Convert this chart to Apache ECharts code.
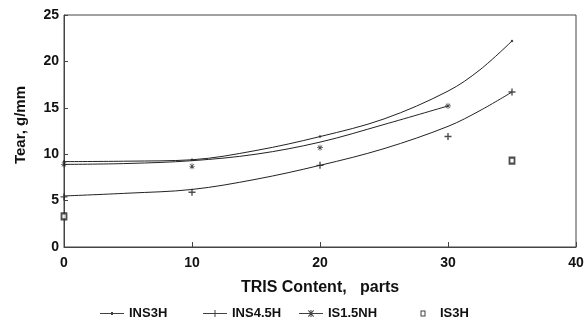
<!DOCTYPE html>
<html>
<head>
<meta charset="utf-8">
<script src="https://cdn.jsdelivr.net/npm/echarts@6/dist/echarts.min.js"></script>
<style>
html,body{margin:0;padding:0;background:#fff;}
#chart{width:587px;height:335px;}
</style>
</head>
<body>
<div id="chart"></div>
<script>
// ---- Data ----
const seriesNames = ['INS3H', 'INS4.5H', 'IS1.5NH', 'IS3H'];

// fitted curves (x = TRIS content, parts; y = tear, g/mm)
const fitX_INS3H = [0, 5, 10, 15, 20, 25, 30, 32.5, 35];
const fitY_INS3H = [9.2, 9.25, 9.4, 10.4, 11.9, 13.8, 16.8, 19.1, 22.2];
const fitX_INS45H = [0, 5, 10, 15, 20, 25, 30, 32.5, 35];
const fitY_INS45H = [5.5, 5.8, 6.2, 7.3, 8.8, 10.6, 13.0, 14.7, 16.7];
const fitX_IS15NH = [0, 5, 10, 15, 20, 25, 30];
const fitY_IS15NH = [8.9, 9.0, 9.3, 10.0, 11.3, 13.2, 15.2];

// measured points
const ptX_INS3H = [0, 10, 20, 35];
const ptY_INS3H = [9.2, 9.4, 11.9, 22.2];
const ptX_INS45H = [0, 10, 20, 30, 35];
const ptY_INS45H = [5.4, 5.9, 8.8, 11.9, 16.7];
const ptX_IS15NH = [0, 10, 20, 30];
const ptY_IS15NH = [8.9, 8.7, 10.7, 15.2];
const ptX_IS3H = [0, 35];
const ptY_IS3H = [3.3, 9.3];

const xAxisTitle = 'TRIS Content,   parts';
const yAxisTitle = 'Tear, g/mm';

// ---- build ----
const zip = (xs, ys) => xs.map((x, i) => [x, ys[i]]);
const INK = '#222';
const FONT = 'Liberation Sans, Arial, sans-serif';

const corners = 'M0,0 L0.01,0 L0,0.01 Z M24,10 L23.99,10 L24,9.99 Z ';
const lineBar = 'M0,4.5 L24,4.5 L24,5.5 L0,5.5 Z ';
const iconINS3H = 'path://' + corners + lineBar + 'M11,3.6 L13,3.6 L13,6.4 L11,6.4 Z';
const iconINS45H = 'path://' + corners + lineBar + 'M11.5,1.5 L12.5,1.5 L12.5,8.5 L11.5,8.5 Z';
const iconIS15NH = 'path://' + corners + lineBar +
  'M11.5,1.5 L12.5,1.5 L12.5,8.5 L11.5,8.5 Z M9,2.3 L9.7,1.6 L15,7.7 L14.3,8.4 Z M14.3,1.6 L15,2.3 L9.7,8.4 L9,7.7 Z';
const iconIS3H = 'path://' + corners + 'M9.5,2 L14.5,2 L14.5,8 L9.5,8 Z M10.5,3 L10.5,7 L13.5,7 L13.5,3 Z';

const plusSym = 'path://M4,0 L6,0 L6,10 L4,10 Z M0,4 L10,4 L10,6 L0,6 Z';
const starSym = 'path://M4.4,0 L5.6,0 L5.6,10 L4.4,10 Z M0,4.4 L10,4.4 L10,5.6 L0,5.6 Z M1,1.8 L1.8,1 L9,8.2 L8.2,9 Z M8.2,1 L9,1.8 L1.8,9 L1,8.2 Z';

function legendAt(left, name, icon) {
  return {
    left: left, top: 302, orient: 'horizontal',
    itemWidth: 24, itemHeight: 10, itemGap: 0,
    symbolKeepAspect: true,
    selectedMode: false,
    textStyle: { fontFamily: FONT, fontWeight: 'bold', fontSize: 13, color: '#111' },
    data: [{ name: name, icon: icon, itemStyle: { color: '#111', borderWidth: 0 } }]
  };
}

const lineCommon = {
  type: 'line', smooth: 0.35, symbol: 'none', silent: true,
  lineStyle: { color: INK, width: 1 }, z: 2
};

const option = {
  animation: false,
  backgroundColor: '#fff',
  legend: [
    legendAt(95, seriesNames[0], iconINS3H),
    legendAt(198, seriesNames[1], iconINS45H),
    legendAt(294, seriesNames[2], iconIS15NH),
    legendAt(406, seriesNames[3], iconIS3H)
  ],
  grid: {
    left: 64, right: 11, top: 15, bottom: 88,
    show: true, borderColor: '#444', borderWidth: 1, backgroundColor: 'transparent'
  },
  xAxis: {
    type: 'value', min: 0, max: 40, interval: 10,
    name: xAxisTitle, nameLocation: 'middle', nameGap: 33,
    nameTextStyle: { fontFamily: FONT, fontWeight: 'bold', fontSize: 16, color: '#111' },
    axisLine: { show: true, lineStyle: { color: '#444', width: 1 } },
    axisTick: { show: true, inside: true, length: 5, lineStyle: { color: '#444' } },
    splitLine: { show: false },
    axisLabel: { margin: 9, fontFamily: FONT, fontWeight: 'bold', fontSize: 14, color: '#111' }
  },
  yAxis: {
    type: 'value', min: 0, max: 25, interval: 5,
    name: yAxisTitle, nameLocation: 'middle', nameGap: 36, nameRotate: 90,
    nameTextStyle: { fontFamily: FONT, fontWeight: 'bold', fontSize: 15, color: '#111', padding: [0, 0, 0, 12] },
    axisLine: { show: true, lineStyle: { color: '#444', width: 1 } },
    axisTick: { show: true, inside: true, length: 4, lineStyle: { color: '#444' } },
    splitLine: { show: false },
    axisLabel: { margin: 5, fontFamily: FONT, fontWeight: 'bold', fontSize: 14, color: '#111' }
  },
  series: [
    Object.assign({}, lineCommon, { name: 'INS3H fit', data: zip(fitX_INS3H, fitY_INS3H) }),
    Object.assign({}, lineCommon, { name: 'INS4.5H fit', data: zip(fitX_INS45H, fitY_INS45H) }),
    Object.assign({}, lineCommon, { name: 'IS1.5NH fit', data: zip(fitX_IS15NH, fitY_IS15NH) }),
    { type: 'scatter', name: seriesNames[0], data: zip(ptX_INS3H, ptY_INS3H),
      symbol: 'circle', symbolSize: 2.5, itemStyle: { color: INK }, z: 3 },
    { type: 'scatter', name: seriesNames[1], data: zip(ptX_INS45H, ptY_INS45H),
      symbol: plusSym, symbolSize: 7, itemStyle: { color: INK }, z: 3 },
    { type: 'scatter', name: seriesNames[2], data: zip(ptX_IS15NH, ptY_IS15NH),
      symbol: starSym, symbolSize: 6, itemStyle: { color: INK }, z: 3 },
    { type: 'scatter', name: seriesNames[3], data: zip(ptX_IS3H, ptY_IS3H),
      symbol: 'emptyRect', symbolSize: [5, 6], itemStyle: { color: INK, borderWidth: 1 }, z: 3 }
  ]
};

const chart = echarts.init(document.getElementById('chart'), null, { renderer: 'canvas' });
chart.setOption(option);
</script>
</body>
</html>
